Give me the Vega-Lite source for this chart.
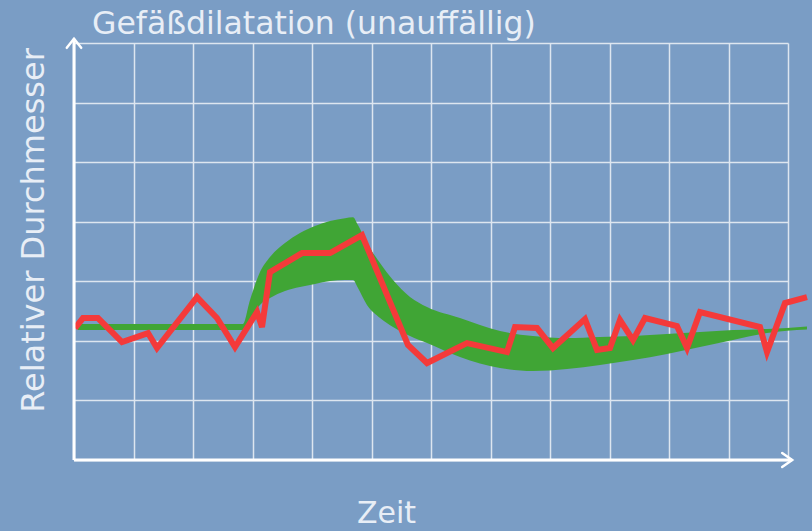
{
  "$schema": "https://vega.github.io/schema/vega-lite/v6.json",
  "width": 714,
  "height": 417,
  "autosize": {"type": "none"},
  "padding": {"left": 74, "top": 43, "right": 24, "bottom": 71},
  "background": "#7a9dc5",
  "view": {"stroke": null},
  "config": {"font": "DejaVu Sans"},
  "title": {
    "text": "Gefäßdilatation (unauffällig)",
    "anchor": "start",
    "frame": "group",
    "dx": 18,
    "dy": 40,
    "offset": 8,
    "baseline": "alphabetic",
    "fontSize": 31.5,
    "font": "DejaVu Sans",
    "fontWeight": "normal",
    "color": "#e8eef6"
  },
  "datasets": {
    "band": [
      {"t": 0.067, "hi": 2.282, "lo": 2.181},
      {"t": 2.84, "hi": 2.282, "lo": 2.181},
      {"t": 2.958, "hi": 2.685, "lo": 2.349},
      {"t": 3.126, "hi": 3.154, "lo": 2.601},
      {"t": 3.294, "hi": 3.406, "lo": 2.718},
      {"t": 3.546, "hi": 3.641, "lo": 2.836},
      {"t": 3.798, "hi": 3.809, "lo": 2.903},
      {"t": 4.05, "hi": 3.926, "lo": 2.953},
      {"t": 4.303, "hi": 4.01, "lo": 3.003},
      {"t": 4.555, "hi": 4.06, "lo": 3.02},
      {"t": 4.689, "hi": 4.077, "lo": 3.02},
      {"t": 4.773, "hi": 3.943, "lo": 2.886},
      {"t": 4.924, "hi": 3.641, "lo": 2.601},
      {"t": 5.143, "hi": 3.305, "lo": 2.383},
      {"t": 5.361, "hi": 3.02, "lo": 2.232},
      {"t": 5.647, "hi": 2.735, "lo": 2.081},
      {"t": 5.933, "hi": 2.567, "lo": 1.963},
      {"t": 6.487, "hi": 2.383, "lo": 1.728},
      {"t": 7.16, "hi": 2.164, "lo": 1.544},
      {"t": 7.714, "hi": 2.081, "lo": 1.493},
      {"t": 8.286, "hi": 2.047, "lo": 1.527},
      {"t": 8.84, "hi": 2.064, "lo": 1.594},
      {"t": 9.395, "hi": 2.081, "lo": 1.678},
      {"t": 9.966, "hi": 2.114, "lo": 1.779},
      {"t": 10.521, "hi": 2.148, "lo": 1.896},
      {"t": 11.076, "hi": 2.181, "lo": 2.013},
      {"t": 11.647, "hi": 2.198, "lo": 2.131},
      {"t": 12.319, "hi": 2.24, "lo": 2.19}
    ],
    "red": [
      {"t": 0.017, "d": 2.215},
      {"t": 0.151, "d": 2.383},
      {"t": 0.403, "d": 2.383},
      {"t": 0.807, "d": 1.98},
      {"t": 1.244, "d": 2.131},
      {"t": 1.395, "d": 1.879},
      {"t": 2.067, "d": 2.735},
      {"t": 2.403, "d": 2.383},
      {"t": 2.706, "d": 1.896},
      {"t": 3.076, "d": 2.483},
      {"t": 3.16, "d": 2.232},
      {"t": 3.294, "d": 3.154},
      {"t": 3.832, "d": 3.473},
      {"t": 4.303, "d": 3.473},
      {"t": 4.84, "d": 3.775},
      {"t": 5.613, "d": 1.93},
      {"t": 5.933, "d": 1.628},
      {"t": 6.605, "d": 1.963},
      {"t": 7.277, "d": 1.812},
      {"t": 7.412, "d": 2.232},
      {"t": 7.782, "d": 2.215},
      {"t": 8.05, "d": 1.879},
      {"t": 8.588, "d": 2.366},
      {"t": 8.79, "d": 1.846},
      {"t": 9.008, "d": 1.879},
      {"t": 9.176, "d": 2.349},
      {"t": 9.395, "d": 2.013},
      {"t": 9.597, "d": 2.383},
      {"t": 10.134, "d": 2.248},
      {"t": 10.303, "d": 1.879},
      {"t": 10.521, "d": 2.483},
      {"t": 11.529, "d": 2.232},
      {"t": 11.647, "d": 1.812},
      {"t": 11.95, "d": 2.634},
      {"t": 12.319, "d": 2.735}
    ]
  },
  "layer": [
    {
      "data": {"name": "band"},
      "mark": {"type": "area", "color": "#40a535", "opacity": 1, "interpolate": "monotone"},
      "encoding": {
        "x": {
          "field": "t",
          "type": "quantitative",
          "scale": {"domain": [0, 12], "nice": false, "zero": false},
          "axis": {
            "values": [0, 1, 2, 3, 4, 5, 6, 7, 8, 9, 10, 11, 12],
            "grid": true,
            "gridColor": "#dde6f0",
            "gridWidth": 1.5,
            "labels": false,
            "ticks": false,
            "domain": false,
            "title": "Zeit",
            "titleX": 312,
            "titleY": 62,
            "titleAlign": "center",
            "titleBaseline": "alphabetic",
            "titleFont": "DejaVu Sans",
            "titleFontSize": 30,
            "titleFontWeight": "normal",
            "titleColor": "#e8eef6"
          }
        },
        "y": {
          "field": "hi",
          "type": "quantitative",
          "scale": {"domain": [0, 7], "nice": false, "zero": false},
          "axis": {
            "values": [0, 1, 2, 3, 4, 5, 6, 7],
            "grid": true,
            "gridColor": "#dde6f0",
            "gridWidth": 1.5,
            "labels": false,
            "ticks": false,
            "domain": false,
            "title": "Relativer Durchmesser",
            "titleX": -31,
            "titleY": 187,
            "titleAngle": -90,
            "titleAlign": "center",
            "titleBaseline": "alphabetic",
            "titleFont": "DejaVu Sans",
            "titleFontSize": 32,
            "titleFontWeight": "normal",
            "titleColor": "#e8eef6"
          }
        },
        "y2": {"field": "lo"}
      }
    },
    {
      "data": {"name": "red"},
      "mark": {"type": "line", "color": "#f43a3a", "strokeWidth": 6, "strokeJoin": "miter", "strokeCap": "butt"},
      "encoding": {
        "x": {"field": "t", "type": "quantitative", "scale": {"domain": [0, 12], "nice": false, "zero": false}},
        "y": {"field": "d", "type": "quantitative", "scale": {"domain": [0, 7], "nice": false, "zero": false}}
      }
    },
    {
      "data": {"values": [{}]},
      "mark": {"type": "rule", "color": "#ffffff", "strokeWidth": 3},
      "encoding": {
        "x": {"datum": 0, "type": "quantitative"},
        "x2": {"datum": 12.07},
        "y": {"datum": 0, "type": "quantitative"}
      }
    },
    {
      "data": {"values": [{}]},
      "mark": {"type": "rule", "color": "#ffffff", "strokeWidth": 3},
      "encoding": {
        "x": {"datum": 0, "type": "quantitative"},
        "y": {"datum": 0, "type": "quantitative"},
        "y2": {"datum": 7.07}
      }
    },
    {
      "data": {"values": [{}]},
      "mark": {"type": "point", "shape": "M-1,-0.7L0,0L-1,0.7", "size": 400, "filled": false, "stroke": "#ffffff", "strokeWidth": 2.5, "opacity": 1, "strokeCap": "round"},
      "encoding": {
        "x": {"datum": 12.07, "type": "quantitative"},
        "y": {"datum": 0, "type": "quantitative"}
      }
    },
    {
      "data": {"values": [{}]},
      "mark": {"type": "point", "shape": "M-0.8,1L0,0L0.8,1", "size": 324, "filled": false, "stroke": "#ffffff", "strokeWidth": 2.5, "opacity": 1, "strokeCap": "round"},
      "encoding": {
        "x": {"datum": 0, "type": "quantitative"},
        "y": {"datum": 7.07, "type": "quantitative"}
      }
    }
  ]
}
